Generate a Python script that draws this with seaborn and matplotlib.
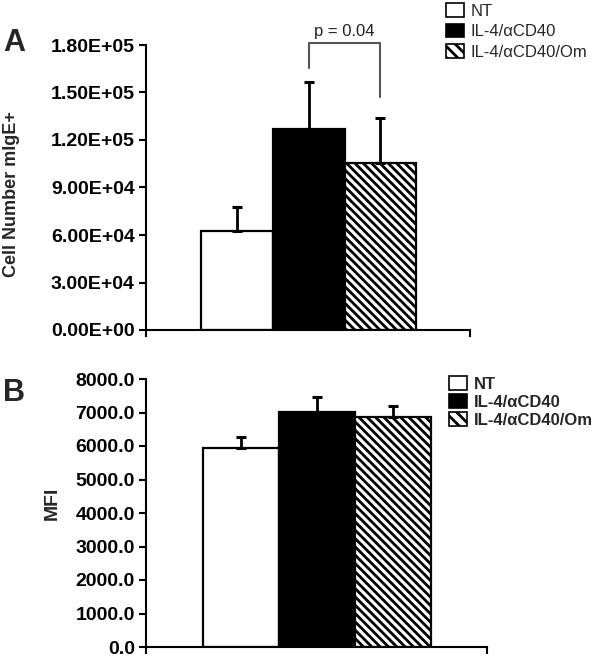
"""
Two-panel bar chart: mIgE+ cell numbers (A) and MFI (B) for three treatments.
Output: out.png
"""

import matplotlib

matplotlib.use("Agg")
import matplotlib.pyplot as plt
import matplotlib.ticker as mticker
import numpy as np
import seaborn as sns
from matplotlib.patches import Patch

# data
groups = ["NT", "IL-4/αCD40", "IL-4/αCD40/Om"]
bar_colors = ["white", "black", "white"]
bar_hatches = ["", "", "\\\\\\\\"]

cells_mean = [62800, 126800, 105300]
cells_err = [14600, 29900, 28500]

mfi_mean = [5940, 7010, 6870]
mfi_err = [330, 450, 320]

# significance bracket for panel A
p_label = "p = 0.04"
bracket_pair = [1, 2]
bracket_top = 181000
bracket_ends = [165500, 147200]

sns.set_theme(style="white")
plt.rcParams["font.family"] = ["Liberation Sans", "DejaVu Sans"]
plt.rcParams["hatch.linewidth"] = 2.0

fig = plt.figure(figsize=(6.0, 6.59), dpi=100)
ax_a = fig.add_axes([146 / 600, 329 / 659, 324 / 600, 285 / 659])
ax_b = fig.add_axes([146 / 600, 12 / 659, 341 / 600, 268 / 659])


def draw_panel(ax, means, errs, xlim, ylim, step, fmt):
    sns.barplot(x=groups, y=means, hue=groups, palette=bar_colors, width=1.0,
                edgecolor="black", linewidth=1.6, legend=False, ax=ax,
                saturation=1)
    for patch, h in zip(ax.patches, bar_hatches):
        patch.set_hatch(h)
    ax.errorbar(range(len(groups)), means, yerr=[np.zeros(len(errs)), errs],
                fmt="none", ecolor="black", elinewidth=2.0, capsize=3.5,
                capthick=2.2, zorder=1)
    ax.set_xlim(*xlim)
    ax.set_ylim(*ylim)
    ax.yaxis.set_major_locator(mticker.MultipleLocator(step))
    ax.yaxis.set_major_formatter(mticker.FuncFormatter(fmt))
    ax.set_xticks(list(xlim))
    ax.set_xticklabels([])
    ax.tick_params(axis="both", direction="out", length=5, width=1.5,
                   colors="black", pad=3, labelsize=14, left=True, bottom=True)
    for lab in ax.get_yticklabels():
        lab.set_fontweight("bold")
    for side in ["top", "right"]:
        ax.spines[side].set_visible(False)
    for side in ["left", "bottom"]:
        ax.spines[side].set_color("black")
        ax.spines[side].set_linewidth(1.5)
    ax.set_xlabel("")
    ax.set_ylabel("")


draw_panel(ax_a, cells_mean, cells_err, (-1.27, 3.25), (0, 180000), 30000,
           lambda v, pos: format(v, ".2E"))
draw_panel(ax_b, mfi_mean, mfi_err, (-1.25, 3.24), (0, 8000), 1000,
           lambda v, pos: f"{v:.1f}")

# bracket
bx0, bx1 = bracket_pair
ax_a.plot([bx0, bx0, bx1, bx1], [bracket_ends[0], bracket_top, bracket_top, bracket_ends[1]],
          color="#555555", lw=1.5, clip_on=False)
ax_a.text((bx0 + bx1) / 2, bracket_top + 2500, p_label, ha="center", va="bottom",
          fontsize=12, color="#222222")

# panel letters and y labels
fig.text(3 / 600, 1 - 28 / 659, "A", fontsize=22, fontweight="bold", va="top")
fig.text(3 / 600, 1 - 378 / 659, "B", fontsize=22, fontweight="bold", va="top")
fig.text(12 / 600, 1 - 194 / 659, "Cell Number mIgE+", rotation=90, ha="center",
         va="center", fontsize=13, fontweight="bold")
fig.text(52 / 600, 1 - 503 / 659, "MFI", rotation=90, ha="center",
         va="center", fontsize=14, fontweight="bold")

# legends
handles = [Patch(facecolor=c, edgecolor="black", hatch=h.replace("\\\\\\\\", "\\\\\\"), linewidth=1.2)
           for c, h in zip(bar_colors, bar_hatches)]
fig.legend(handles, groups, loc="upper left", bbox_to_anchor=(446 / 600, 1 - 3 / 659),
           frameon=False, fontsize=12, handlelength=1.1, handleheight=0.9,
           handletextpad=0.4, labelspacing=0.3, borderpad=0, borderaxespad=0)
fig.legend(handles, groups, loc="upper left", bbox_to_anchor=(449 / 600, 1 - 376 / 659),
           frameon=False, prop={"size": 12, "weight": "bold"}, handlelength=1.1,
           handleheight=0.9, handletextpad=0.4, labelspacing=0.15, borderpad=0,
           borderaxespad=0)

fig.savefig("out.png", dpi=100)
